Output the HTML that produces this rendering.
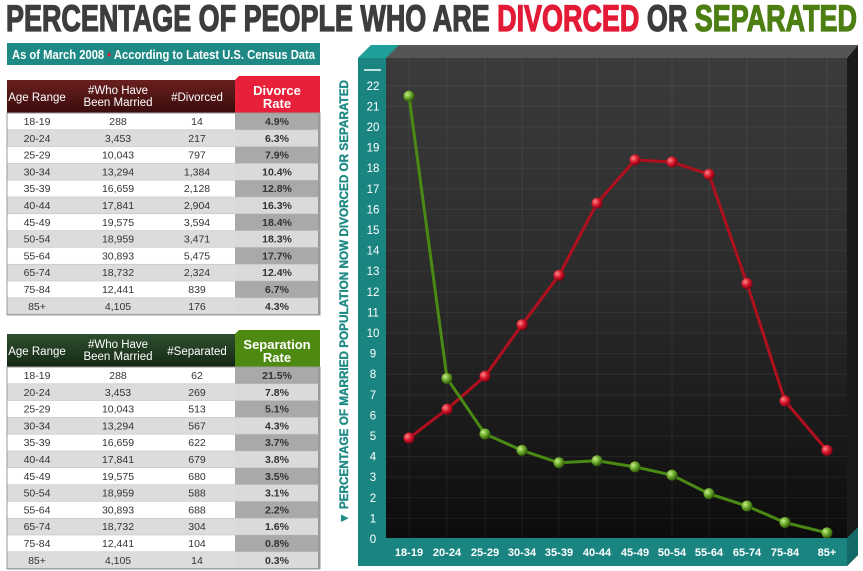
<!DOCTYPE html>
<html><head><meta charset="utf-8"><style>
body{margin:0;background:#fff;width:863px;height:571px;overflow:hidden}
svg{display:block;font-family:"Liberation Sans",sans-serif}
</style></head><body>
<svg width="863" height="571" viewBox="0 0 863 571">
<defs>
<linearGradient id="bg" x1="0" y1="0" x2="0" y2="1"><stop offset="0" stop-color="#3b3b3c"/><stop offset="0.5" stop-color="#2a2a2a"/><stop offset="1" stop-color="#0c0c0c"/></linearGradient>
<linearGradient id="rh" x1="0" y1="0" x2="0" y2="1"><stop offset="0" stop-color="#6a1f1f"/><stop offset="1" stop-color="#3a0c0c"/></linearGradient>
<linearGradient id="gh" x1="0" y1="0" x2="0" y2="1"><stop offset="0" stop-color="#2f4f2f"/><stop offset="1" stop-color="#142814"/></linearGradient>
<radialGradient id="rb" cx="0.35" cy="0.35" r="0.7"><stop offset="0" stop-color="#ff8a8a"/><stop offset="0.5" stop-color="#d8182c"/><stop offset="1" stop-color="#7a0010"/></radialGradient>
<radialGradient id="gb" cx="0.35" cy="0.35" r="0.7"><stop offset="0" stop-color="#c8f08a"/><stop offset="0.5" stop-color="#6aa82a"/><stop offset="1" stop-color="#2a5008"/></radialGradient>
</defs>
<text x="6" y="31" font-size="37" font-weight="bold" fill="#3d3d3f" stroke="#3d3d3f" stroke-width="1.3" textLength="851" lengthAdjust="spacingAndGlyphs">PERCENTAGE OF PEOPLE WHO ARE <tspan fill="#e31b37" stroke="#e31b37">DIVORCED</tspan> OR <tspan fill="#4c7e12" stroke="#4c7e12">SEPARATED</tspan></text>
<rect x="7" y="43" width="313" height="22" fill="#1f8a85"/>
<text x="12" y="59" font-size="13" font-weight="bold" fill="#fff" textLength="303" lengthAdjust="spacingAndGlyphs">As of March 2008 <tspan fill="#e31b37">•</tspan> According to Latest U.S. Census Data</text>

<rect x="7" y="80" width="228" height="33" fill="url(#rh)"/>
<polygon points="235,113 235,80 239,76 320,76 320,113" fill="#e8203a"/>
<g font-size="11.5" fill="#fff" text-anchor="middle">
<text x="37" y="101">Age Range</text><text x="118" y="94">#Who Have</text><text x="118" y="106">Been Married</text><text x="197" y="101">#Divorced</text>
<text x="277" y="95" font-weight="bold" font-size="13">Divorce</text><text x="277" y="108" font-weight="bold" font-size="13">Rate</text>
</g>
<rect x="7" y="113" width="313" height="202" fill="#fff" stroke="#aaa"/>
<rect x="7" y="334" width="228" height="33" fill="url(#gh)"/>
<polygon points="235,367 235,334 239,330 320,330 320,367" fill="#4e8a12"/>
<g font-size="11.5" fill="#fff" text-anchor="middle">
<text x="37" y="355">Age Range</text><text x="118" y="348">#Who Have</text><text x="118" y="360">Been Married</text><text x="197" y="355">#Separated</text>
<text x="277" y="349" font-weight="bold" font-size="13">Separation</text><text x="277" y="362" font-weight="bold" font-size="13">Rate</text>
</g>
<rect x="7" y="367" width="313" height="202" fill="#fff" stroke="#aaa"/>
<g font-size="10.5" fill="#333" text-anchor="middle" id="rows"></g>

<text transform="translate(348,524) rotate(-90)" font-size="12" font-weight="bold" fill="#1f8a85" stroke="#1f8a85" stroke-width="0.4" textLength="444" lengthAdjust="spacingAndGlyphs">▼ PERCENTAGE OF MARRIED POPULATION NOW DIVORCED OR SEPARATED</text>
<polygon points="358,58 371,45 858,45 847,58" fill="#555"/>
<polygon points="358,58 371,45 399,45 386,58" fill="#1fa09a"/>
<polygon points="847,58 858,45 858,555 847,566" fill="#1a1a1a"/>
<rect x="386" y="58" width="461" height="480" fill="url(#bg)"/>
<g stroke="#ffffff" stroke-opacity="0.06" stroke-width="1" id="grid"></g>
<rect x="358" y="58" width="28" height="508" fill="#1a8580"/>
<rect x="386" y="538" width="461" height="28" fill="#1a8580"/>
<polygon points="847,538 858,527 858,555 847,566" fill="#146a66"/>
<rect x="364" y="69" width="17" height="2" fill="#bfe0de"/>
<g font-size="11.5" fill="#fff" text-anchor="middle" id="yl"></g>
<g font-size="11" fill="#fff" text-anchor="middle" font-weight="bold" id="xl"></g>
<g id="lines"></g>
</svg>
<script>
var NS="http://www.w3.org/2000/svg";
function el(p,t,a,txt){var e=document.createElementNS(NS,t);for(var k in a)e.setAttribute(k,a[k]);if(txt!=null)e.textContent=txt;p.appendChild(e);return e;}
var ages=["18-19","20-24","25-29","30-34","35-39","40-44","45-49","50-54","55-64","65-74","75-84","85+"];
var mar=["288","3,453","10,043","13,294","16,659","17,841","19,575","18,959","30,893","18,732","12,441","4,105"];
var div=["14","217","797","1,384","2,128","2,904","3,594","3,471","5,475","2,324","839","176"];
var dr=[4.9,6.3,7.9,10.4,12.8,16.3,18.4,18.3,17.7,12.4,6.7,4.3];
var sep=["62","269","513","567","622","679","680","588","688","304","104","14"];
var sr=[21.5,7.8,5.1,4.3,3.7,3.8,3.5,3.1,2.2,1.6,0.8,0.3];
var rows=document.getElementById("rows");
function table(y0,cnt,rate){
 var h=16.8;
 for(var i=0;i<12;i++){var y=y0+i*h;
  el(rows,"rect",{x:7,y:y,width:228,height:h,fill:i%2?"#dcdcdc":"#fff"});
  el(rows,"rect",{x:235,y:y,width:83,height:h,fill:i%2?"#dadada":"#a9a9a9"});
  el(rows,"rect",{x:318,y:y,width:2,height:h,fill:"#999"});
  el(rows,"line",{x1:7,y1:y,x2:320,y2:y,stroke:"#bbb","stroke-width":0.5});
  el(rows,"text",{x:37,y:y+12},ages[i]);el(rows,"text",{x:118,y:y+12},mar[i]);
  el(rows,"text",{x:197,y:y+12},cnt[i]);el(rows,"text",{x:277,y:y+12,"font-weight":"bold"},rate[i].toFixed(1)+"%");
 }
 el(rows,"rect",{x:7,y:y0,width:313,height:12*h,fill:"none",stroke:"#999"});
}
table(113,div,dr);table(367,sep,sr);
var xs=[409,447,485,522,559,597,635,672,709,747,785,827];
var gr=document.getElementById("grid");
xs.forEach(function(x){el(gr,"line",{x1:x,y1:58,x2:x,y2:538});});
for(var v=0;v<=22;v++)el(gr,"line",{x1:386,y1:539-20.6*v,x2:847,y2:539-20.6*v});
var yl=document.getElementById("yl");
for(var v=0;v<=22;v++)el(yl,"text",{x:373,y:539-20.6*v+4},v);
var xl=document.getElementById("xl");
for(var i=0;i<12;i++)el(xl,"text",{x:xs[i],y:556},ages[i]);
var L=document.getElementById("lines");
function ser(d,c,g){var p=d.map(function(v,i){return xs[i]+","+(539-20.6*v)}).join(" ");
 el(L,"polyline",{points:p,fill:"none",stroke:c,"stroke-width":3});
 d.forEach(function(v,i){el(L,"circle",{cx:xs[i],cy:539-20.6*v,r:5.5,fill:"url(#"+g+")"});});}
ser(dr,"#b0101e","rb");ser(sr,"#4a8a14","gb");
</script>
</body></html>
